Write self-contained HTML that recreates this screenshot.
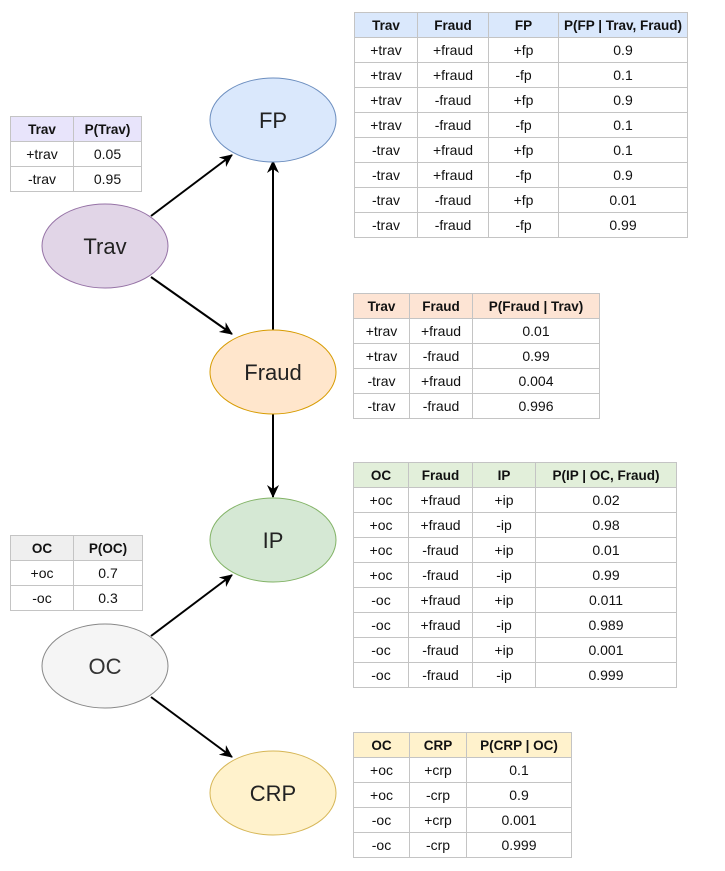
<!DOCTYPE html>
<html><head><meta charset="utf-8"><style>
html,body{margin:0;padding:0;background:#fff;width:725px;height:871px;overflow:hidden;position:relative;font-family:"Liberation Sans",sans-serif}
svg{position:absolute;left:0;top:0}
table{position:absolute;border-collapse:collapse;font-size:14px;color:#111;table-layout:fixed}
tr{height:25px}
td,th{border:1px solid #c4c4c4;height:25px;padding:0;text-align:center;box-sizing:border-box;white-space:nowrap}
th{font-weight:bold;font-size:13.5px}
</style></head><body>
<svg width="725" height="871">
<defs><marker id="a" markerWidth="13" markerHeight="12" refX="12" refY="6" orient="auto" markerUnits="userSpaceOnUse"><path d="M0,0 L13,6 L0,12 L4,6 z" fill="#000"/></marker></defs>
<g stroke="#000" stroke-width="2" marker-end="url(#a)">
<line x1="151" y1="216" x2="232" y2="155"/>
<line x1="151" y1="277" x2="232" y2="334"/>
<line x1="273" y1="330" x2="273" y2="161"/>
<line x1="273" y1="414" x2="273" y2="497"/>
<line x1="151" y1="636" x2="232" y2="575"/>
<line x1="151" y1="697" x2="232" y2="757"/>
</g>
<g font-family="Liberation Sans,sans-serif" font-size="22" text-anchor="middle">
<ellipse cx="273" cy="120" rx="63" ry="42" fill="#dae8fc" stroke="#6c8ebf"/>
<text x="273" y="128" fill="#222">FP</text>
<ellipse cx="105" cy="246" rx="63" ry="42" fill="#e1d5e7" stroke="#9673a6"/>
<text x="105" y="254" fill="#222">Trav</text>
<ellipse cx="273" cy="372" rx="63" ry="42" fill="#ffe6cc" stroke="#d79b00"/>
<text x="273" y="380" fill="#222">Fraud</text>
<ellipse cx="273" cy="540" rx="63" ry="42" fill="#d5e8d4" stroke="#82b366"/>
<text x="273" y="548" fill="#222">IP</text>
<ellipse cx="105" cy="666" rx="63" ry="42" fill="#f5f5f5" stroke="#888"/>
<text x="105" y="674" fill="#333">OC</text>
<ellipse cx="273" cy="793" rx="63" ry="42" fill="#fff2cc" stroke="#d6b656"/>
<text x="273" y="801" fill="#222">CRP</text>
</g>
</svg>

<table style="left:10px;top:116px;width:132px">
<tr style="background:#e8e4fb"><th style="width:63px">Trav</th><th>P(Trav)</th></tr>
<tr><td>+trav</td><td>0.05</td></tr>
<tr><td>-trav</td><td>0.95</td></tr>
</table>

<table style="left:354px;top:12px;width:334px">
<tr style="background:#dae8fc"><th style="width:63px">Trav</th><th style="width:71px">Fraud</th><th style="width:70px">FP</th><th>P(FP | Trav, Fraud)</th></tr>
<tr><td>+trav</td><td>+fraud</td><td>+fp</td><td>0.9</td></tr>
<tr><td>+trav</td><td>+fraud</td><td>-fp</td><td>0.1</td></tr>
<tr><td>+trav</td><td>-fraud</td><td>+fp</td><td>0.9</td></tr>
<tr><td>+trav</td><td>-fraud</td><td>-fp</td><td>0.1</td></tr>
<tr><td>-trav</td><td>+fraud</td><td>+fp</td><td>0.1</td></tr>
<tr><td>-trav</td><td>+fraud</td><td>-fp</td><td>0.9</td></tr>
<tr><td>-trav</td><td>-fraud</td><td>+fp</td><td>0.01</td></tr>
<tr><td>-trav</td><td>-fraud</td><td>-fp</td><td>0.99</td></tr>
</table>

<table style="left:353px;top:293px;width:247px">
<tr style="background:#fde4d4"><th style="width:56px">Trav</th><th style="width:63px">Fraud</th><th>P(Fraud | Trav)</th></tr>
<tr><td>+trav</td><td>+fraud</td><td>0.01</td></tr>
<tr><td>+trav</td><td>-fraud</td><td>0.99</td></tr>
<tr><td>-trav</td><td>+fraud</td><td>0.004</td></tr>
<tr><td>-trav</td><td>-fraud</td><td>0.996</td></tr>
</table>

<table style="left:353px;top:462px;width:324px">
<tr style="background:#e2efda"><th style="width:55px">OC</th><th style="width:64px">Fraud</th><th style="width:63px">IP</th><th>P(IP | OC, Fraud)</th></tr>
<tr><td>+oc</td><td>+fraud</td><td>+ip</td><td>0.02</td></tr>
<tr><td>+oc</td><td>+fraud</td><td>-ip</td><td>0.98</td></tr>
<tr><td>+oc</td><td>-fraud</td><td>+ip</td><td>0.01</td></tr>
<tr><td>+oc</td><td>-fraud</td><td>-ip</td><td>0.99</td></tr>
<tr><td>-oc</td><td>+fraud</td><td>+ip</td><td>0.011</td></tr>
<tr><td>-oc</td><td>+fraud</td><td>-ip</td><td>0.989</td></tr>
<tr><td>-oc</td><td>-fraud</td><td>+ip</td><td>0.001</td></tr>
<tr><td>-oc</td><td>-fraud</td><td>-ip</td><td>0.999</td></tr>
</table>

<table style="left:10px;top:535px;width:133px">
<tr style="background:#efefef"><th style="width:63px">OC</th><th>P(OC)</th></tr>
<tr><td>+oc</td><td>0.7</td></tr>
<tr><td>-oc</td><td>0.3</td></tr>
</table>

<table style="left:353px;top:732px;width:219px">
<tr style="background:#fff2cc"><th style="width:56px">OC</th><th style="width:57px">CRP</th><th>P(CRP | OC)</th></tr>
<tr><td>+oc</td><td>+crp</td><td>0.1</td></tr>
<tr><td>+oc</td><td>-crp</td><td>0.9</td></tr>
<tr><td>-oc</td><td>+crp</td><td>0.001</td></tr>
<tr><td>-oc</td><td>-crp</td><td>0.999</td></tr>
</table>
</body></html>
